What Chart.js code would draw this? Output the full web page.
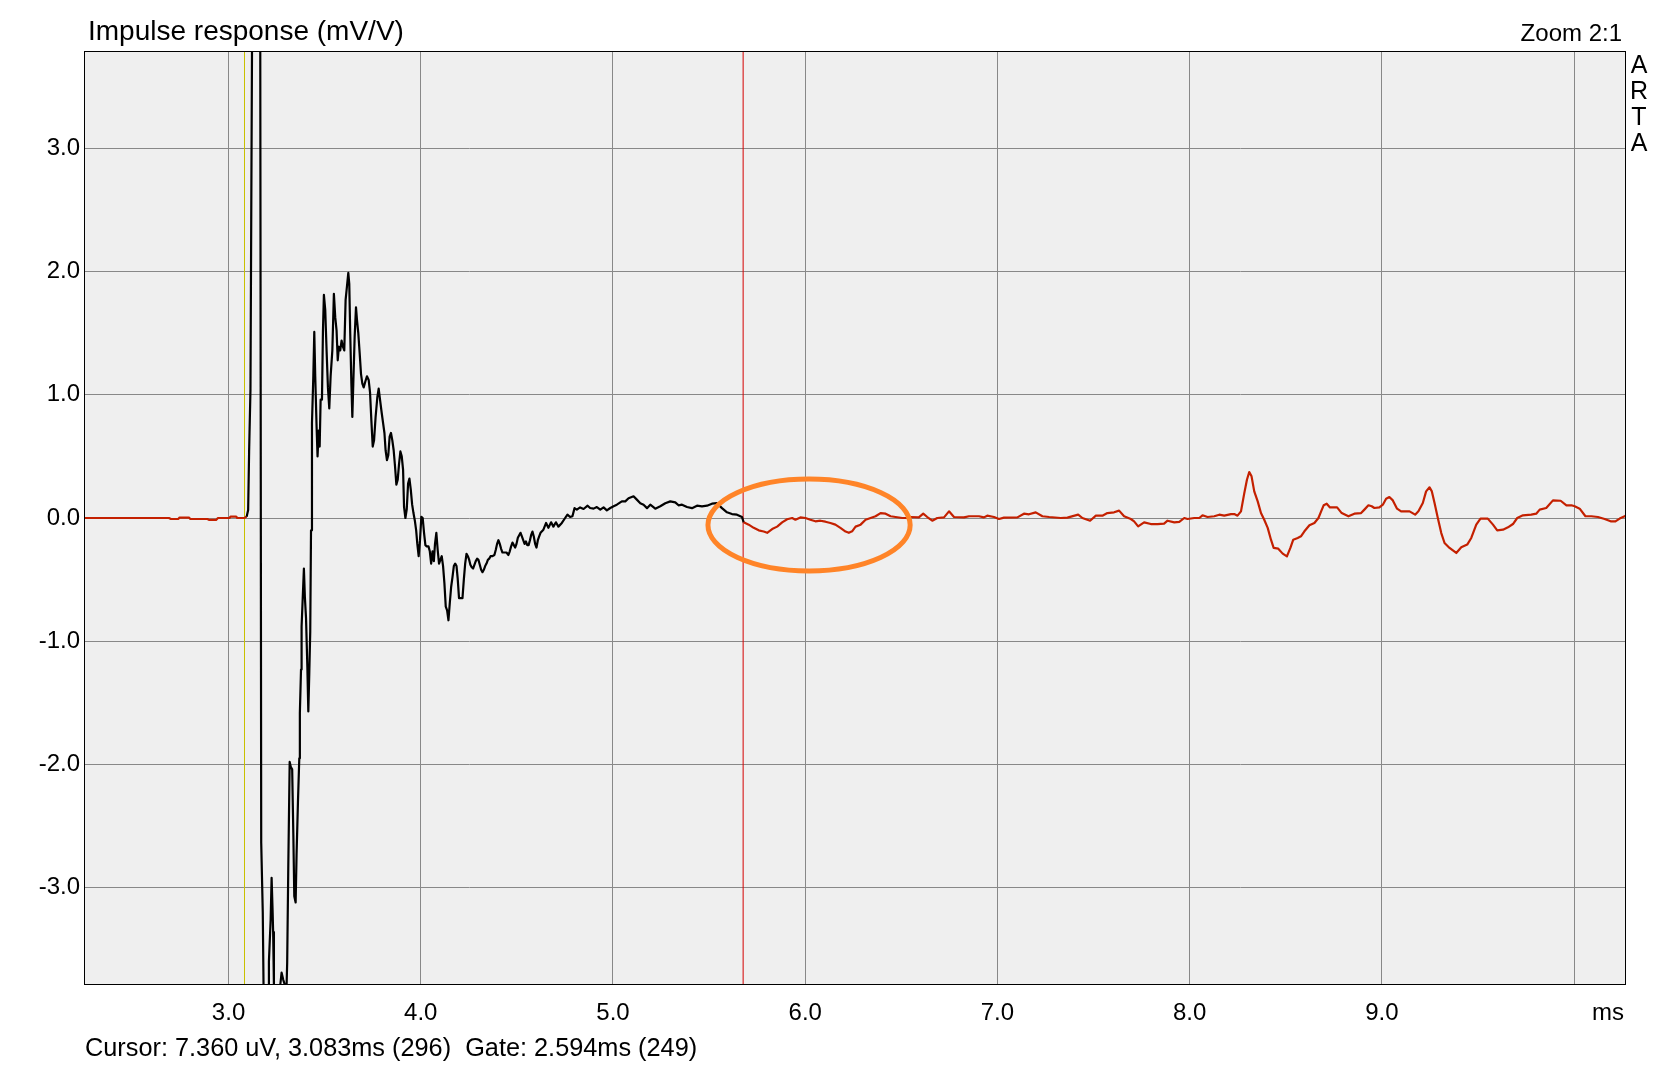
<!DOCTYPE html>
<html>
<head>
<meta charset="utf-8">
<title>Impulse response</title>
<script src="https://cdn.jsdelivr.net/npm/chart.js@4.4.1/dist/chart.umd.min.js"></script>
<style>
  html, body { margin: 0; padding: 0; background: #fff; }
  #wrap { position: relative; width: 1662px; height: 1090px; }
</style>
</head>
<body>
<div id="wrap"><canvas id="impulse"></canvas></div>
<script>
// time axis of the measured impulse (ms)
const timeMs = [
  // pre-trigger
  2.248, 2.69, 2.70, 2.738, 2.745, 2.795, 2.80, 2.89, 2.90, 2.935,
  2.945, 3.005, 3.01, 3.04, 3.045, 3.081,
  // main impulse
  3.094, 3.102, 3.107, 3.114, 3.118, 3.122, 3.165, 3.170, 3.178, 3.182,
  3.206, 3.210, 3.219, 3.224, 3.229, 3.232, 3.236, 3.269, 3.276, 3.285,
  3.293, 3.302, 3.305, 3.311, 3.318, 3.324, 3.331, 3.337, 3.342, 3.349,
  3.354, 3.361, 3.368, 3.371, 3.377, 3.380, 3.392, 3.397, 3.403, 3.410,
  3.415, 3.420, 3.425, 3.429, 3.434,
  // decay
  3.441, 3.446, 3.451, 3.458, 3.463, 3.469, 3.474, 3.479, 3.486, 3.491,
  3.496, 3.503, 3.510, 3.517, 3.524, 3.531, 3.540, 3.548, 3.555, 3.562,
  3.568, 3.574, 3.581, 3.588, 3.595, 3.602, 3.609, 3.616, 3.623, 3.628,
  3.633, 3.639, 3.644, 3.649, 3.656, 3.663, 3.668, 3.675, 3.682, 3.689,
  3.696, 3.703, 3.712, 3.720, 3.729, 3.736, 3.743, 3.750, 3.757, 3.765,
  3.774, 3.781, 3.788, 3.797, 3.804, 3.811, 3.817, 3.824, 3.831, 3.838,
  3.845, 3.852, 3.859, 3.866, 3.873, 3.880, 3.887, 3.894, 3.901, 3.908,
  3.913, 3.920, 3.927, 3.934, 3.941, 3.948, 3.955, 3.962, 3.969, 3.976,
  3.982, 3.989, 3.996, 4.003, 4.010, 4.017, 4.024, 4.031, 4.040, 4.047,
  4.054, 4.061, 4.068, 4.074, 4.081, 4.088, 4.095, 4.102, 4.109, 4.116,
  4.123, 4.130, 4.137, 4.144, 4.151, 4.158, 4.165, 4.172, 4.179, 4.186,
  4.192, 4.199, 4.208, 4.217, 4.224, 4.231, 4.238, 4.245, 4.252, 4.258,
  4.265, 4.272, 4.279, 4.286, 4.293, 4.300, 4.307, 4.314, 4.321, 4.328,
  4.335, 4.342, 4.349, 4.356, 4.363, 4.373, 4.383, 4.390, 4.397, 4.404,
  4.411, 4.418, 4.425, 4.436, 4.446, 4.456, 4.463, 4.470, 4.477, 4.484,
  4.491, 4.498, 4.505, 4.512, 4.519, 4.526, 4.533, 4.540, 4.547, 4.554,
  4.561, 4.568, 4.574, 4.581, 4.588, 4.595, 4.602, 4.609, 4.616, 4.623,
  // tail up to gate and a bit after
  4.638, 4.652, 4.664, 4.678, 4.690, 4.703, 4.716, 4.734, 4.751, 4.763,
  4.777, 4.789, 4.800, 4.812, 4.829, 4.847, 4.868, 4.881, 4.899, 4.916,
  4.934, 4.951, 4.968, 4.986, 5.003, 5.020, 5.046, 5.064, 5.081, 5.107,
  5.124, 5.142, 5.159, 5.177, 5.194, 5.220, 5.246, 5.272, 5.298, 5.324,
  5.341, 5.359, 5.385, 5.411, 5.437, 5.463, 5.489, 5.515, 5.541, 5.567,
  5.593, 5.619, 5.645, 5.671, 5.680, 5.706, 5.732, 5.758, 5.784, 5.802,
  5.828, 5.854, 5.880, 5.906, 5.932, 5.949, 5.975, 6.001, 6.027, 6.053,
  6.079, 6.105, 6.131, 6.157, 6.183, 6.210, 6.227, 6.244, 6.262, 6.288,
  6.314, 6.340, 6.366, 6.392, 6.418, 6.444, 6.470, 6.505, 6.530,
  // reflections
  6.548, 6.591, 6.614, 6.635, 6.661, 6.687, 6.722, 6.748, 6.774, 6.826,
  6.852, 6.904, 6.930, 6.947, 6.982, 7.008, 7.034, 7.104, 7.138, 7.164,
  7.199, 7.234, 7.269, 7.330, 7.364, 7.420, 7.442, 7.482, 7.512, 7.546,
  7.572, 7.607, 7.633, 7.659, 7.694, 7.711, 7.732, 7.763, 7.798, 7.833,
  7.867, 7.885, 7.920, 7.946, 7.972, 7.989, 8.024, 8.050, 8.067, 8.093,
  8.128, 8.154, 8.180, 8.215, 8.232, 8.249, 8.267, 8.284, 8.298, 8.310,
  8.322, 8.336, 8.354, 8.371, 8.388, 8.406, 8.423, 8.437,
  8.461, 8.484, 8.506, 8.524, 8.539, 8.562, 8.579, 8.597, 8.623, 8.649,
  8.670, 8.684, 8.697, 8.713, 8.730, 8.767, 8.791, 8.826, 8.857, 8.892,
  8.909, 8.930, 8.947, 8.961, 8.987, 9.005, 9.022, 9.039, 9.057, 9.079,
  9.100, 9.144, 9.173, 9.190, 9.213, 9.230, 9.248, 9.260, 9.274, 9.291,
  9.309, 9.326, 9.352, 9.387, 9.413, 9.444, 9.465, 9.491, 9.513, 9.551,
  9.578, 9.600, 9.630, 9.656, 9.682, 9.704, 9.734, 9.777, 9.803, 9.821,
  9.855, 9.890, 9.930, 9.960, 9.986, 10.003, 10.029, 10.059, 10.090, 10.124,
  10.159, 10.190, 10.215, 10.237, 10.263, 10.270
];

// impulse response (mV/V), clipped at the plot edge like ARTA does
const response = [
  0, 0, -0.008, -0.008, 0.003, 0.003, -0.008, -0.008, -0.016, -0.016,
  0, 0, 0.011, 0.011, 0, 0,
  0.01, 0.065, 0.54, 1.04, 2.42, 3.79, 3.79, -2.64, -3.2, -3.79,
  -3.79, -3.60, -3.26, -2.92, -3.18, -3.36, -3.79, -3.79, -3.69, -3.75,
  -3.79, -3.79, -3.61, -2.80, -1.98, -2.02, -2.04, -2.56, -3.07, -3.12,
  -2.72, -2.31, -1.95, -1.58, -1.23, -0.88, -0.41, -0.64, -0.81, -1.21,
  -1.57, -1.26, -0.92, -0.10, 0.77,
  1.15, 1.51, 1.15, 0.74, 0.50, 0.71, 0.58, 0.96, 0.96, 1.51,
  1.81, 1.69, 1.36, 1.06, 0.89, 1.15, 1.36, 1.82, 1.63, 1.52,
  1.28, 1.39, 1.36, 1.44, 1.39, 1.36, 1.77, 1.88, 1.99, 1.90,
  1.50, 1.09, 0.82, 1.09, 1.47, 1.71, 1.61, 1.50, 1.34, 1.17,
  1.09, 1.06, 1.11, 1.15, 1.12, 1.02, 0.79, 0.58, 0.63, 0.82,
  0.98, 1.05, 0.96, 0.85, 0.77, 0.69, 0.55, 0.47, 0.51, 0.66,
  0.69, 0.63, 0.55, 0.42, 0.27, 0.31, 0.44, 0.54, 0.50, 0.39,
  0.09, 0.00, 0.07, 0.28, 0.32, 0.23, 0.11, 0.04, -0.02, -0.10,
  -0.21, -0.31, -0.18, 0.01, 0.00, -0.12, -0.22, -0.23, -0.23, -0.27,
  -0.37, -0.27, -0.35, -0.21, -0.12, -0.26, -0.37, -0.34, -0.31, -0.39,
  -0.53, -0.72, -0.75, -0.83, -0.69, -0.56, -0.48, -0.39, -0.37, -0.39,
  -0.49, -0.65, -0.65, -0.65, -0.50, -0.37, -0.29, -0.31, -0.34, -0.38,
  -0.40, -0.41, -0.38, -0.35, -0.33, -0.34, -0.38, -0.42, -0.44, -0.42,
  -0.39, -0.37, -0.34, -0.33, -0.31, -0.31, -0.30, -0.26, -0.21, -0.18,
  -0.21, -0.25, -0.28, -0.28, -0.28, -0.30, -0.27, -0.23, -0.20, -0.22,
  -0.24, -0.21, -0.16, -0.14, -0.12, -0.15, -0.18, -0.21, -0.19, -0.22,
  -0.22, -0.18, -0.14, -0.11, -0.15, -0.21, -0.24, -0.18, -0.15, -0.12,
  -0.095, -0.04, -0.08, -0.035, -0.07, -0.035, -0.07, -0.04, 0.0, 0.027,
  0.008, 0.014, 0.08, 0.068, 0.086, 0.073, 0.10, 0.081, 0.076, 0.089,
  0.068, 0.086, 0.062, 0.081, 0.095, 0.108, 0.135, 0.135, 0.16, 0.176,
  0.149, 0.12, 0.108, 0.08, 0.108, 0.076, 0.095, 0.12, 0.135, 0.127,
  0.103, 0.108, 0.089, 0.08, 0.10, 0.095, 0.10, 0.116, 0.12, 0.08,
  0.046, 0.032, 0.027, 0.008, -0.035, -0.054, -0.08, -0.10, -0.11, -0.12,
  -0.09, -0.07, -0.035, -0.01, 0.0, -0.014, 0.005, 0.0, -0.014, -0.027,
  -0.022, -0.03, -0.041, -0.054, -0.08, -0.11, -0.12, -0.108, -0.07, -0.054,
  -0.014, 0.0, 0.014, 0.04, 0.035, 0.014, 0.008, 0.0, 0.0,
  0.008, 0.005, 0.035, 0.008, -0.022, 0.0, 0.005, 0.054, 0.008, 0.005,
  0.014, 0.014, 0.005, 0.019, 0.008, -0.008, 0.003, 0.005, 0.035, 0.03,
  0.046, 0.014, 0.008, 0.0, 0.003, 0.027, 0.0, -0.022, 0.019, 0.019,
  0.04, 0.046, 0.06, 0.014, -0.008, -0.027, -0.068, -0.035, -0.049, -0.049,
  -0.046, -0.022, -0.035, -0.032, 0.0, -0.008, 0.0, 0.0, 0.022, 0.008,
  0.014, 0.027, 0.019, 0.032, 0.032, 0.019, 0.054, 0.20, 0.31, 0.373,
  0.338, 0.216, 0.135, 0.04, -0.014, -0.08, -0.176, -0.243,
  -0.249, -0.289, -0.311, -0.243, -0.176, -0.162, -0.149, -0.108, -0.059, -0.04,
  0.0, 0.054, 0.103, 0.116, 0.086, 0.086, 0.04, 0.014, 0.035, 0.04,
  0.068, 0.103, 0.095, 0.081, 0.086, 0.108, 0.157, 0.17, 0.143, 0.076,
  0.054, 0.054, 0.027, 0.054, 0.122, 0.216, 0.249, 0.216, 0.122, 0.0,
  -0.122, -0.203, -0.243, -0.284, -0.238, -0.216, -0.162, -0.054, -0.005, -0.005,
  -0.054, -0.10, -0.095, -0.076, -0.049, 0.0, 0.022, 0.027, 0.035, 0.068,
  0.081, 0.143, 0.14, 0.103, 0.103, 0.095, 0.076, 0.014, 0.014, 0.008,
  -0.008, -0.027, -0.027, -0.005, 0.014, 0.02
];

const xTicks = [3, 4, 5, 6, 7, 8, 9, 10];
const yTicks = [-3, -2, -1, 0, 1, 2, 3];
const xRange = [2.248, 10.27];
const yRange = [-3.79, 3.79];

const cursorMs = 3.083;
const gateEndMs = 5.677;
// hand drawn ring round the post-gate part
const ringCenter = [6.02, -0.057];
const ringRadius = [0.526, 0.373];

const titleText = "Impulse response (mV/V)";
const zoomText = "Zoom 2:1";
const brandLetters = ["A", "R", "T", "A"];
const statusText = "Cursor: 7.360 uV, 3.083ms (296)  Gate: 2.594ms (249)";

if (timeMs.length !== response.length) console.warn("length mismatch", timeMs.length, response.length);

const FONT = "'Liberation Sans', Arial, sans-serif";
const traceRed = "#c42000";

Chart.defaults.font.family = FONT;
Chart.defaults.color = "#000";

const points = timeMs.map((t, i) => ({ x: t, y: response[i] }));

const artaFrame = {
	id: "artaFrame",
	beforeDraw(chart) {
		const { ctx, chartArea: a } = chart;
		ctx.save();
		ctx.fillStyle = "#fff";
		ctx.fillRect(0, 0, chart.width, chart.height);
		ctx.fillStyle = "#efefef";
		ctx.fillRect(a.left, a.top, a.right - a.left, a.bottom - a.top);
		ctx.restore();
	},
	afterDatasetsDraw(chart) {
		const { ctx } = chart;
		const xs = chart.scales.x, ys = chart.scales.y;
		const cx = xs.getPixelForValue(ringCenter[0]);
		const cy = ys.getPixelForValue(ringCenter[1]);
		const rx = xs.getPixelForValue(ringCenter[0] + ringRadius[0]) - cx;
		const ry = cy - ys.getPixelForValue(ringCenter[1] + ringRadius[1]);
		ctx.save();
		ctx.strokeStyle = "#ff8428";
		ctx.lineWidth = 5;
		ctx.beginPath();
		ctx.ellipse(cx, cy, rx, ry, 0, 0, Math.PI * 2);
		ctx.stroke();
		ctx.restore();
	},
	afterDraw(chart) {
		const { ctx, chartArea: a } = chart;
		ctx.save();
		ctx.strokeStyle = "#000";
		ctx.lineWidth = 1;
		ctx.strokeRect(a.left + 0.5, a.top + 0.5, a.right - a.left - 1, a.bottom - a.top - 1);

		ctx.fillStyle = "#000";
		ctx.textBaseline = "alphabetic";
		ctx.font = "28px " + FONT;
		ctx.textAlign = "left";
		ctx.fillText(titleText, a.left + 4, a.top - 11);

		ctx.font = "24px " + FONT;
		ctx.textAlign = "right";
		ctx.fillText(zoomText, a.right - 4, a.top - 10);

		ctx.textAlign = "center";
		ctx.textBaseline = "middle";
		ctx.font = "25px " + FONT;
		brandLetters.forEach((ch, i) => ctx.fillText(ch, a.right + 13, a.top + 15 + i * 26));

		ctx.font = "24px " + FONT;
		ctx.textAlign = "right";
		ctx.fillText("ms", a.right - 2, a.bottom + 28);

		ctx.font = "25.3px " + FONT;
		ctx.textAlign = "left";
		ctx.fillText(statusText, a.left + 1, a.bottom + 64);
		ctx.restore();
	},
};

new Chart(document.getElementById("impulse").getContext("2d"), {
	type: "line",
	data: {
		datasets: [
			{
				label: "impulse",
				data: points,
				borderWidth: 2.2,
				borderJoinStyle: "round",
				pointRadius: 0,
				tension: 0,
				borderColor: traceRed,
				segment: {
					borderColor: (c) => {
						const t = c.p0.parsed.x;
						return t >= cursorMs && t < gateEndMs ? "#000" : traceRed;
					},
				},
			},
			{
				label: "cursor",
				data: [{ x: cursorMs, y: yRange[0] }, { x: cursorMs, y: yRange[1] }],
				borderColor: "#c8c000",
				borderWidth: 1,
				pointRadius: 0,
			},
			{
				label: "gate",
				data: [{ x: gateEndMs, y: yRange[0] }, { x: gateEndMs, y: yRange[1] }],
				borderColor: "#d40000",
				borderWidth: 1,
				pointRadius: 0,
			},
		],
	},
	options: {
		responsive: true,
		maintainAspectRatio: false,
		animation: false,
		events: [],
		layout: { padding: { top: 51, right: 36, bottom: 55, left: 0 } },
		plugins: { legend: { display: false }, tooltip: { enabled: false } },
		scales: {
			x: {
				type: "linear",
				min: xRange[0],
				max: xRange[1],
				afterBuildTicks: (s) => { s.ticks = xTicks.map((v) => ({ value: v })); },
				afterFit: (s) => { s.height = 50; },
				ticks: {
					autoSkip: false,
					maxRotation: 0,
					padding: 14,
					font: { size: 24 },
					callback: (v) => (v === 10 ? "" : Number(v).toFixed(1)),
				},
				grid: { color: "#888", lineWidth: 1, drawTicks: false },
				border: { display: false },
			},
			y: {
				type: "linear",
				min: yRange[0],
				max: yRange[1],
				afterBuildTicks: (s) => { s.ticks = yTicks.map((v) => ({ value: v })); },
				afterFit: (s) => { s.width = 84; },
				ticks: {
					padding: 4,
					font: { size: 24 },
					callback: (v) => Number(v).toFixed(1),
				},
				grid: { color: "#888", lineWidth: 1, drawTicks: false },
				border: { display: false },
			},
		},
	},
	plugins: [artaFrame],
});
</script>
</body>
</html>
